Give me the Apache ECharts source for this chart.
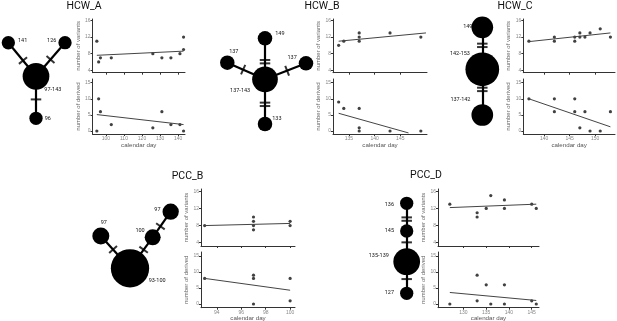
<!DOCTYPE html>
<html>
<head>
<meta charset="utf-8">
<script src="https://cdn.jsdelivr.net/npm/echarts@6/dist/echarts.min.js"></script>
<style>
  html, body { margin: 0; padding: 0; background: #fff; }
  #chart { width: 617px; height: 321px; }
</style>
</head>
<body>
<div id="chart"></div>
<script>
// ---- scatter data: calendar day vs number of variants / derived ----
const hcwADays = [95, 96, 97, 103, 126, 131, 136, 141, 143, 143];
const hcwAVariants = [11, 6, 7, 7, 8, 7, 7, 8, 12, 9];
const hcwADerivedDays = [95, 96, 97, 103, 126, 131, 136, 141, 143];
const hcwADerived = [0, 10, 6, 2, 1, 6, 2, 2, 0];
const hcwAFitVDays = [95, 143];
const hcwAFitV = [7.6, 8.6];
const hcwAFitDDays = [95, 143];
const hcwAFitD = [5.1, 2.0];

const hcwBDays = [133, 134, 137, 137, 137, 143, 149];
const hcwBVariants = [10, 11, 13, 12, 11, 13, 12];
const hcwBDerivedDays = [133, 134, 137, 137, 137, 143, 149];
const hcwBDerived = [9, 7, 7, 1, 0, 0, 0];
const hcwBFitVDays = [133, 150];
const hcwBFitV = [11.0, 13.0];
const hcwBFitDDays = [133, 146.6];
const hcwBFitD = [5.5, -0.6];

const hcwCDays = [137, 142, 142, 146, 146, 147, 147, 148, 149, 151, 153];
const hcwCVariants = [11, 12, 11, 12, 11, 13, 12, 12, 13, 14, 12];
const hcwCDerivedDays = [137, 142, 142, 146, 146, 147, 148, 149, 151, 153];
const hcwCDerived = [10, 10, 6, 10, 6, 1, 6, 0, 0, 6];
const hcwCFitVDays = [137, 153];
const hcwCFitV = [10.9, 13.0];
const hcwCFitDDays = [137, 153];
const hcwCFitD = [10.0, 1.3];

const pccBDays = [93, 97, 97, 97, 97, 100, 100];
const pccBVariants = [8, 10, 9, 8, 7, 9, 8];
const pccBDerivedDays = [93, 97, 97, 97, 100, 100];
const pccBDerived = [8, 9, 8, 0, 8, 1];
const pccBFitVDays = [93, 100];
const pccBFitV = [8.0, 8.5];
const pccBFitDDays = [93, 100];
const pccBFitD = [8.0, 4.3];

const pccDDays = [127, 133, 133, 135, 136, 139, 139, 145, 146];
const pccDVariants = [13, 11, 10, 12, 15, 14, 12, 13, 12];
const pccDDerivedDays = [127, 133, 133, 135, 136, 139, 139, 145, 146];
const pccDDerived = [0, 9, 1, 6, 0, 6, 0, 1, 0];
const pccDFitVDays = [127, 146];
const pccDFitV = [12.2, 13.0];
const pccDFitDDays = [127, 146];
const pccDFitD = [3.6, 1.1];

const variantTicks = [4, 8, 12, 16];
const derivedTicks = [0, 5, 10, 15];

// ---- haplotype networks: labels, parent node, mutation steps to parent ----
const hcwAHaplotypes = ['97-143', '141', '126', '96'];
const hcwAParents = [null, 0, 0, 0];
const hcwAMutations = [0, 1, 1, 1];

const hcwBHaplotypes = ['137-143', '149', '137', '137', '133'];
const hcwBParents = [null, 0, 0, 0, 0];
const hcwBMutations = [0, 2, 1, 1, 2];

const hcwCHaplotypes = ['142-153', '149', '137-142'];
const hcwCParents = [null, 0, 0];
const hcwCMutations = [0, 2, 2];

const pccBHaplotypes = ['93-100', '97', '100', '97'];
const pccBParents = [null, 0, 0, 2];
const pccBMutations = [0, 1, 1, 1];

const pccDHaplotypes = ['135-139', '145', '136', '127'];
const pccDParents = [null, 0, 1, 0];
const pccDMutations = [0, 1, 2, 1];

// ---- layout ----
const rows = [
  { top1: 19, h1: 53.7, yMin1: 3.4, yMax1: 16.36, top2: 79, h2: 55, yMin2: -0.93, yMax2: 16.15 },
  { top1: 189, h1: 57, yMin1: 3.23, yMax1: 16.54, top2: 252, h2: 55.7, yMin2: -1.16, yMax2: 16.25 }
];

const panels = [
  { title: 'HCW_A', tx: 84, ty: 1, row: 0, left: 92.5, width: 92.5, xMin: 92.6, xMax: 143.8, xTicks: [100, 110, 120, 130, 140],
    days: hcwADays, variants: hcwAVariants, dDays: hcwADerivedDays, derived: hcwADerived,
    fv: [hcwAFitVDays, hcwAFitV], fd: [hcwAFitDDays, hcwAFitD] },
  { title: 'HCW_B', tx: 322, ty: 1, row: 0, left: 333, width: 94, xMin: 131.9, xMax: 150.2, xTicks: [135, 140, 145],
    days: hcwBDays, variants: hcwBVariants, dDays: hcwBDerivedDays, derived: hcwBDerived,
    fv: [hcwBFitVDays, hcwBFitV], fd: [hcwBFitDDays, hcwBFitD] },
  { title: 'HCW_C', tx: 515, ty: 1, row: 0, left: 523.3, width: 91.7, xMin: 135.9, xMax: 153.9, xTicks: [140, 145, 150],
    days: hcwCDays, variants: hcwCVariants, dDays: hcwCDerivedDays, derived: hcwCDerived,
    fv: [hcwCFitVDays, hcwCFitV], fd: [hcwCFitDDays, hcwCFitD] },
  { title: 'PCC_B', tx: 187.5, ty: 171, row: 1, left: 201, width: 94, xMin: 92.7, xMax: 100.4, xTicks: [94, 96, 98, 100],
    days: pccBDays, variants: pccBVariants, dDays: pccBDerivedDays, derived: pccBDerived,
    fv: [pccBFitVDays, pccBFitV], fd: [pccBFitDDays, pccBFitD] },
  { title: 'PCC_D', tx: 426, ty: 170, row: 1, left: 438, width: 101, xMin: 124.4, xMax: 146.6, xTicks: [130, 135, 140, 145],
    days: pccDDays, variants: pccDVariants, dDays: pccDDerivedDays, derived: pccDDerived,
    fv: [pccDFitVDays, pccDFitV], fd: [pccDFitDDays, pccDFitD] }
];

// hub pixel centre, node diameters, direction/length of each link, where the mutation bars sit, label placement
const networks = [
  { names: hcwAHaplotypes, parents: hcwAParents, muts: hcwAMutations, hub: [36, 76.3],
    size: [26.7, 13.3, 13.3, 13.3], angle: [0, 129.5, 49.2, 270], len: [0, 43.5, 44.4, 42], barAt: [0, 0.47, 0.5, 0.55],
    label: [['right', -7, 13], ['right', 1, -2], ['left', 0, -2], ['right', 0, 0]] },
  { names: hcwBHaplotypes, parents: hcwBParents, muts: hcwBMutations, hub: [265, 79.3],
    size: [25.7, 14.5, 14.5, 14.5, 14.5], angle: [0, 90, 156.2, 21.3, 270], len: [0, 41, 41.2, 44, 44.7], barAt: [0, 0.43, 0.58, 0.54, 0.56],
    label: [['left', 0, 11], ['right', 1, -5], ['top', 6.5, 1], ['left', 0, -6], ['right', -2, -5]] },
  { names: hcwCHaplotypes, parents: hcwCParents, muts: hcwCMutations, hub: [482.3, 69.3],
    size: [33.7, 21.7, 21.7], angle: [0, 90, 270], len: [0, 42, 45.7], barAt: [0, 0.57, 0.44],
    label: [['left', 6.5, -16], ['left', 3, -1], ['left', 1, -15]] },
  { names: pccBHaplotypes, parents: pccBParents, muts: pccBMutations, hub: [130, 268.3],
    size: [38.3, 17, 16, 16.3], angle: [0, 132, 53.8, 54.9], len: [0, 43.6, 38.4, 31.3], barAt: [0, 0.58, 0.6, 0.43],
    label: [['right', -2.5, 12.5], ['top', 3, 0], ['left', 2, -6.5], ['left', 0, -2.5]] },
  { names: pccDHaplotypes, parents: pccDParents, muts: pccDMutations, hub: [406.7, 261.7],
    size: [26.7, 13.3, 13.3, 13.3], angle: [0, 90, 90, 270], len: [0, 30.7, 27.7, 31.6], barAt: [0, 0.63, 0.43, 0.55],
    label: [['left', -2.5, -6], ['left', -4, 0], ['left', -4, 1], ['left', -4, -1]] }
];

const plotFont = 'Liberation Sans';
const netFont = 'Roboto';

const grid = [], xAxis = [], yAxis = [], series = [], title = [];

function addPlot(box, p, lower, ticks, yMin, yMax, yName) {
  grid.push(Object.assign({ outerBoundsMode: 'none', containLabel: false }, box));
  const gi = grid.length - 1;
  xAxis.push({
    gridIndex: gi, type: 'value', min: p.xMin, max: p.xMax,
    axisLine: { show: true, onZero: false, lineStyle: { color: '#333', width: 1 } },
    axisTick: { show: true, length: 2, customValues: p.xTicks, lineStyle: { color: '#333' } },
    axisLabel: { show: lower, customValues: p.xTicks, fontSize: 5, color: '#888', margin: 2, fontFamily: plotFont },
    splitLine: { show: false },
    name: lower ? 'calendar day' : '', nameLocation: 'middle', nameGap: 8,
    nameTextStyle: { fontSize: 6.2, color: '#555', fontFamily: plotFont }
  });
  yAxis.push({
    gridIndex: gi, type: 'value', min: yMin, max: yMax,
    axisLine: { show: true, onZero: false, lineStyle: { color: '#333', width: 1 } },
    axisTick: { show: true, length: 2, customValues: ticks, lineStyle: { color: '#333' } },
    axisLabel: { show: true, customValues: ticks, fontSize: 5, color: '#888', margin: 2, fontFamily: plotFont },
    splitLine: { show: false },
    name: yName, nameLocation: 'middle', nameGap: 8,
    nameTextStyle: { fontSize: 6, color: '#666', fontFamily: plotFont }
  });
  return gi;
}

function addSeries(gi, xs, ys, fit) {
  series.push({
    type: 'scatter', xAxisIndex: gi, yAxisIndex: gi, symbol: 'circle', symbolSize: 3.2,
    itemStyle: { color: '#111' }, silent: true,
    data: xs.map((d, i) => [d, ys[i]])
  });
  series.push({
    type: 'line', xAxisIndex: gi, yAxisIndex: gi, showSymbol: false, symbol: 'none', silent: true,
    lineStyle: { color: '#444', width: 1 },
    data: fit[0].map((d, i) => [d, fit[1][i]])
  });
}

panels.forEach(p => {
  const r = rows[p.row];
  title.push({
    text: p.title, left: p.tx, top: p.ty, textAlign: 'center', padding: 0,
    textStyle: { fontSize: 10.5, fontWeight: 'normal', color: '#111', fontFamily: netFont }
  });
  const g1 = addPlot({ left: p.left, top: r.top1, width: p.width, height: r.h1 }, p, false, variantTicks, r.yMin1, r.yMax1, 'number of variants');
  addSeries(g1, p.days, p.variants, p.fv);
  const g2 = addPlot({ left: p.left, top: r.top2, width: p.width, height: r.h2 }, p, true, derivedTicks, r.yMin2, r.yMax2, 'number of derived');
  addSeries(g2, p.dDays, p.derived, p.fd);
});

// networks: each sits on a hidden value grid centred on its hub (1 unit = 1 px, y up)
const R = 70;
networks.forEach((n, k) => {
  grid.push({ left: n.hub[0] - R, top: n.hub[1] - R, width: 2 * R, height: 2 * R, outerBoundsMode: 'none', containLabel: false });
  const gi = grid.length - 1;
  xAxis.push({ gridIndex: gi, type: 'value', min: -R, max: R, show: false });
  yAxis.push({ gridIndex: gi, type: 'value', min: -R, max: R, show: false });

  const pos = [];
  n.names.forEach((name, i) => {
    if (n.parents[i] === null) { pos.push([0, 0]); return; }
    const base = pos[n.parents[i]];
    const a = n.angle[i] * Math.PI / 180;
    pos.push([base[0] + n.len[i] * Math.cos(a), base[1] + n.len[i] * Math.sin(a)]);
  });

  const nodes = n.names.map((name, i) => ({
    id: 'n' + k + '_' + i, name: name, value: pos[i], symbolSize: n.size[i],
    label: { show: true, position: n.label[i][0], offset: [n.label[i][1], n.label[i][2]], distance: 2 }
  }));
  const links = [];
  const bars = [];
  n.parents.forEach((par, i) => {
    if (par === null) return;
    links.push({ source: par, target: i });
    const a = n.angle[i] * Math.PI / 180;
    const m = n.muts[i];
    for (let j = 0; j < m; j++) {
      const along = n.len[i] * n.barAt[i] + (j - (m - 1) / 2) * 3.4;
      bars.push({
        value: [pos[par][0] + along * Math.cos(a), pos[par][1] + along * Math.sin(a)],
        symbolRotate: n.angle[i]
      });
    }
  });

  series.push({
    type: 'graph', coordinateSystem: 'cartesian2d', xAxisIndex: gi, yAxisIndex: gi,
    layout: 'none', silent: true, roam: false, symbol: 'circle', z: 2,
    itemStyle: { color: '#000' },
    lineStyle: { color: '#000', width: 2.2, opacity: 1, curveness: 0 },
    label: { show: true, fontSize: 5.5, color: '#111', fontFamily: netFont, formatter: '{b}' },
    emphasis: { disabled: true },
    data: nodes, links: links
  });
  series.push({
    type: 'scatter', xAxisIndex: gi, yAxisIndex: gi, symbol: 'rect', symbolSize: [2, 10.5],
    itemStyle: { color: '#000' }, silent: true, z: 3,
    data: bars
  });
});

const chart = echarts.init(document.getElementById('chart'), null, { renderer: 'canvas' });
chart.setOption({
  animation: false,
  backgroundColor: '#fff',
  title: title,
  grid: grid,
  xAxis: xAxis,
  yAxis: yAxis,
  series: series
});
window.addEventListener('resize', () => chart.resize());
</script>
</body>
</html>
